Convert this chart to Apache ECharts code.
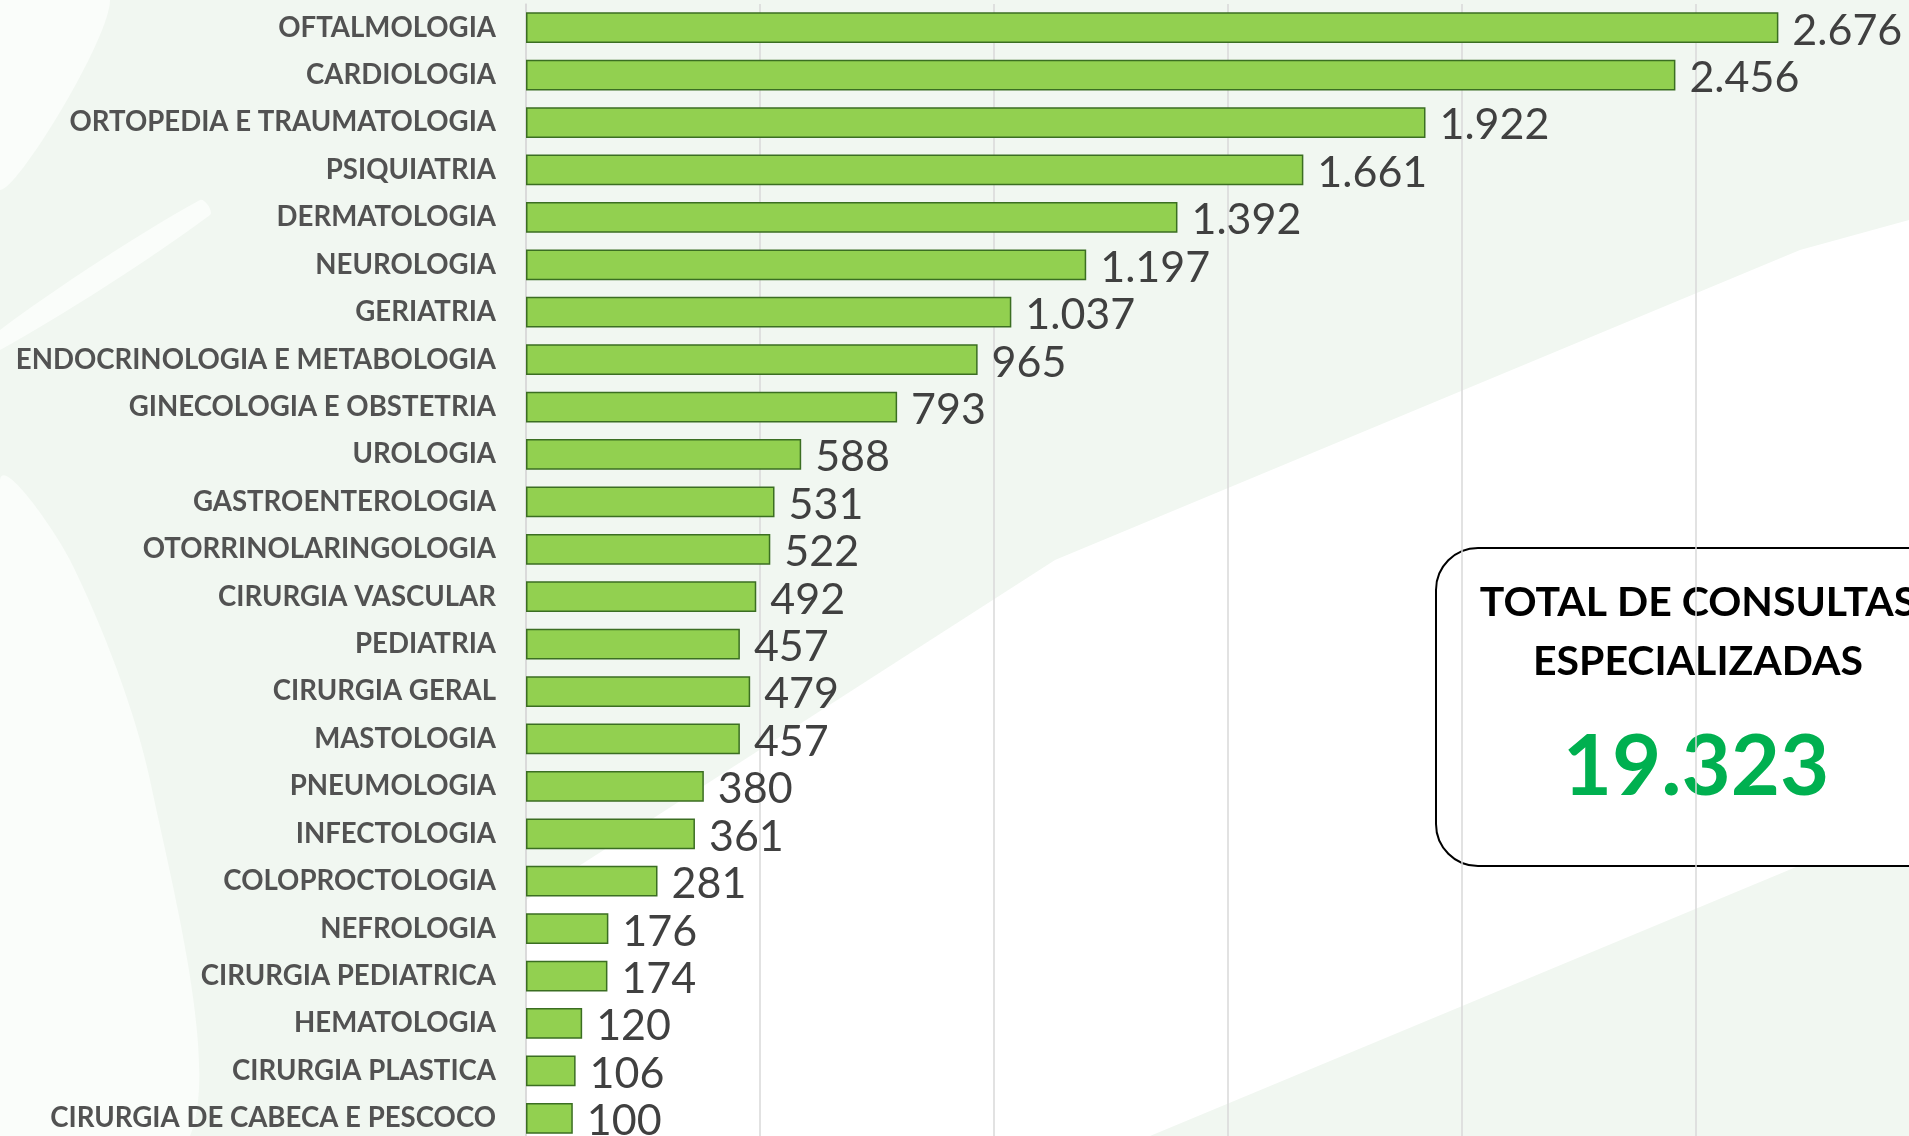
<!DOCTYPE html>
<html>
<head>
<meta charset="utf-8">
<title>Consultas especializadas</title>
<script src="https://cdn.jsdelivr.net/npm/echarts@6/dist/echarts.min.js"></script>
<style>
    html, body { margin: 0; padding: 0; background: #ffffff; }
    #chart { width: 1909px; height: 1136px; }
</style>
</head>
<body>
<div id="chart"></div>
<script>
    // especialidades, de cima para baixo
    const especialidades = [
        'OFTALMOLOGIA', 'CARDIOLOGIA', 'ORTOPEDIA E TRAUMATOLOGIA', 'PSIQUIATRIA',
        'DERMATOLOGIA', 'NEUROLOGIA', 'GERIATRIA', 'ENDOCRINOLOGIA E METABOLOGIA',
        'GINECOLOGIA E OBSTETRIA', 'UROLOGIA', 'GASTROENTEROLOGIA', 'OTORRINOLARINGOLOGIA',
        'CIRURGIA VASCULAR', 'PEDIATRIA', 'CIRURGIA GERAL', 'MASTOLOGIA',
        'PNEUMOLOGIA', 'INFECTOLOGIA', 'COLOPROCTOLOGIA', 'NEFROLOGIA',
        'CIRURGIA PEDIATRICA', 'HEMATOLOGIA', 'CIRURGIA PLASTICA', 'CIRURGIA DE CABECA E PESCOCO'
    ];
    const consultas = [
        2676, 2456, 1922, 1661,
        1392, 1197, 1037, 965,
        793, 588, 531, 522,
        492, 457, 479, 457,
        380, 361, 281, 176,
        174, 120, 106, 100
    ];
    const totalLinhas = ['TOTAL DE CONSULTAS', 'ESPECIALIZADAS'];
    const totalValor = 19323;

    const fmt = v => String(v).replace(/\B(?=(\d{3})+(?!\d))/g, '.');

    const chart = echarts.init(document.getElementById('chart'));

    // marca d'agua verde clara do fundo
    const tint = '#f1f7f1';
    const fundo = [
        [[0, 0], [526, 0], [526, 1136], [0, 1136]],
        [[526, 0], [1909, 0], [1909, 220], [1800, 250], [1055, 560], [526, 900]],
        [[1150, 1136], [1909, 820], [1909, 1136]]
    ].map(pts => ({
        type: 'polygon',
        silent: true,
        z: -20,
        shape: { points: pts },
        style: { fill: tint }
    }));
    // areas claras da marca d'agua
    const claros = [
        [[0, 480], [70, 560], [150, 780], [190, 1136], [0, 1136]],
        [[0, 0], [110, 0], [0, 190]],
        [[0, 330], [200, 200], [210, 215], [0, 350]]
    ].map(pts => ({
        type: 'polygon',
        silent: true,
        z: -19,
        shape: { points: pts, smooth: 0.3 },
        style: { fill: '#fafdfa' }
    }));

    const caixa = [
        {
            type: 'rect',
            silent: true,
            z: -10,
            shape: { x: 1436, y: 548, width: 560, height: 318, r: 42 },
            style: { fill: '#ffffff', stroke: '#000000', lineWidth: 2 }
        },
        {
            type: 'text',
            silent: true,
            z: -9,
            x: 1698, y: 603,
            style: {
                text: totalLinhas[0], fontFamily: 'Lato', fontWeight: 'bold', fontSize: 41,
                fill: '#000000', align: 'center', verticalAlign: 'middle'
            }
        },
        {
            type: 'text',
            silent: true,
            z: -9,
            x: 1698, y: 662,
            style: {
                text: totalLinhas[1], fontFamily: 'Lato', fontWeight: 'bold', fontSize: 41,
                fill: '#000000', align: 'center', verticalAlign: 'middle'
            }
        },
        {
            type: 'text',
            silent: true,
            z: -9,
            x: 1696, y: 768,
            style: {
                text: fmt(totalValor), fontFamily: 'Lato', fontWeight: 'bold', fontSize: 85,
                fill: '#00B050', align: 'center', verticalAlign: 'middle'
            }
        }
    ];

    const option = {
        animation: false,
        backgroundColor: '#ffffff',
        graphic: { elements: fundo.concat(claros, caixa) },
        grid: {
            left: 526,
            top: 4,
            width: 1404,
            height: 1138,
            containLabel: false,
            outerBoundsMode: 'none'
        },
        xAxis: {
            type: 'value',
            min: 0,
            max: 3000,
            interval: 500,
            axisLabel: { show: false },
            axisLine: { show: false },
            axisTick: { show: false },
            splitLine: { lineStyle: { color: '#d9d9d9', width: 1.5 } }
        },
        yAxis: {
            type: 'category',
            inverse: true,
            data: especialidades,
            axisTick: { show: false },
            axisLine: { show: true, lineStyle: { color: '#d9d9d9', width: 1.5 } },
            axisLabel: {
                margin: 30,
                fontFamily: 'Lato',
                fontWeight: 'bold',
                fontSize: 27.6,
                color: '#525252'
            }
        },
        series: [
            {
                name: 'Consultas',
                type: 'bar',
                data: consultas,
                barCategoryGap: '35%',
                itemStyle: {
                    color: '#92D050',
                    borderColor: '#3B6E22',
                    borderWidth: 1.5
                },
                label: {
                    show: true,
                    position: 'right',
                    distance: 14,
                    offset: [0, 3],
                    fontFamily: 'Lato',
                    fontSize: 43,
                    color: '#404040',
                    formatter: p => fmt(p.value)
                }
            }
        ]
    };
    chart.setOption(option);
</script>
</body>
</html>
